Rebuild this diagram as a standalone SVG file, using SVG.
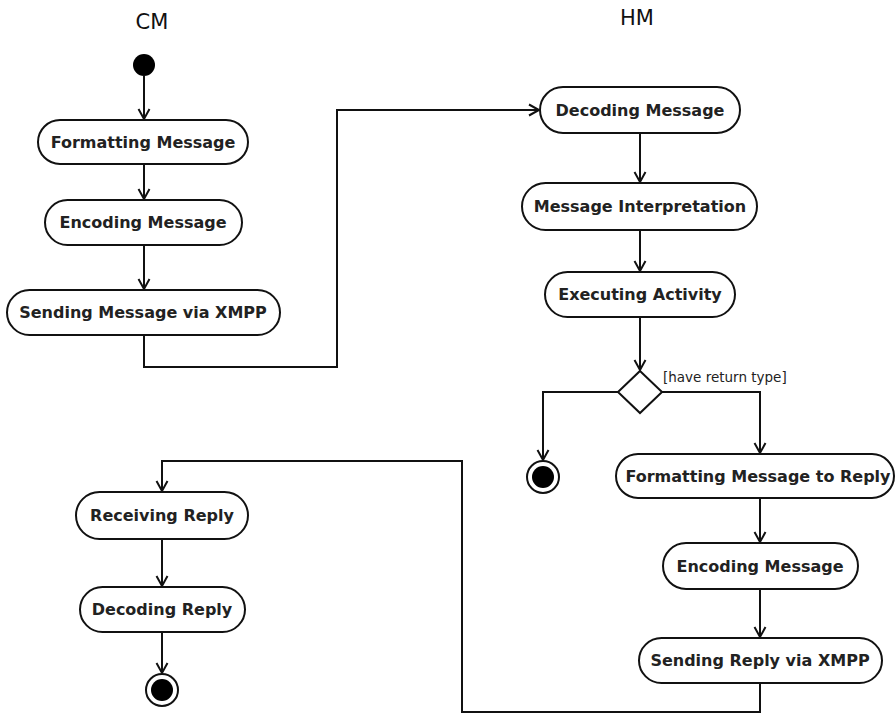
<svg xmlns="http://www.w3.org/2000/svg" width="896" height="715" viewBox="0 0 896 715">
<style>
.n{fill:#fff;stroke:#111;stroke-width:2}
.t{font-family:"DejaVu Sans",Verdana,sans-serif;font-size:16px;font-weight:bold;fill:#222;text-anchor:middle;dominant-baseline:central}
.h{font-family:"DejaVu Sans",Verdana,sans-serif;font-size:21px;fill:#111;text-anchor:middle}
.c{fill:none;stroke:#111;stroke-width:2}
.g{font-family:"DejaVu Sans",Verdana,sans-serif;font-size:13.5px;fill:#222}
</style>
<defs>
<marker id="a" markerWidth="14" markerHeight="14" refX="11" refY="7" orient="auto" markerUnits="userSpaceOnUse">
<path d="M1,1.5 L11,7 L1,12.5" fill="none" stroke="#111" stroke-width="2"/>
</marker>
</defs>
<text class="h" x="152" y="29">CM</text>
<text class="h" x="637" y="25">HM</text>
<g id="connectors">
<path class="c" d="M144,76 V119" marker-end="url(#a)"/>
<path class="c" d="M144,164 V199" marker-end="url(#a)"/>
<path class="c" d="M144,245 V289" marker-end="url(#a)"/>
<path class="c" d="M144,335 V367 H337 V110 H539" marker-end="url(#a)"/>
<path class="c" d="M640,133 V182" marker-end="url(#a)"/>
<path class="c" d="M640,230 V271" marker-end="url(#a)"/>
<path class="c" d="M640,317 V370" marker-end="url(#a)"/>
<path class="c" d="M618,392 H543 V460" marker-end="url(#a)"/>
<path class="c" d="M662,392 H760 V453" marker-end="url(#a)"/>
<path class="c" d="M760,498 V542" marker-end="url(#a)"/>
<path class="c" d="M760,589 V637" marker-end="url(#a)"/>
<path class="c" d="M760,683 V712 H462 V461 H162 V491" marker-end="url(#a)"/>
<path class="c" d="M162,539 V586" marker-end="url(#a)"/>
<path class="c" d="M162,632 V673" marker-end="url(#a)"/>
</g>
<g id="start"><circle cx="144" cy="65" r="11" fill="#000"/></g>
<g id="formatting"><rect class="n" x="38" y="120" width="210" height="44" rx="22"/><text class="t" x="143" y="142">Formatting Message</text></g>
<g id="encoding"><rect class="n" x="45" y="200" width="197" height="45" rx="22.5"/><text class="t" x="143" y="222">Encoding Message</text></g>
<g id="sending"><rect class="n" x="7" y="290" width="273" height="45" rx="22.5"/><text class="t" x="143" y="312">Sending Message via XMPP</text></g>
<g id="decoding"><rect class="n" x="540" y="87" width="200" height="46" rx="23"/><text class="t" x="640" y="110">Decoding Message</text></g>
<g id="interpretation"><rect class="n" x="522" y="183" width="235" height="47" rx="23.5"/><text class="t" x="640" y="206">Message Interpretation</text></g>
<g id="executing"><rect class="n" x="545" y="272" width="190" height="45" rx="22.5"/><text class="t" x="640" y="294">Executing Activity</text></g>
<g id="decision"><path class="n" d="M640,371 L662,392 L640,413 L618,392 Z"/><text class="g" x="663" y="382">[have return type]</text></g>
<g id="end1"><circle cx="543" cy="477" r="16" fill="#fff" stroke="#111" stroke-width="2"/><circle cx="543" cy="477" r="11" fill="#000"/></g>
<g id="formatReply"><rect class="n" x="616" y="454" width="278" height="44" rx="22"/><text class="t" x="758" y="476">Formatting Message to Reply</text></g>
<g id="encodingHM"><rect class="n" x="663" y="543" width="195" height="46" rx="23"/><text class="t" x="760" y="566">Encoding Message</text></g>
<g id="sendingReply"><rect class="n" x="639" y="638" width="243" height="45" rx="22.5"/><text class="t" x="760" y="660">Sending Reply via XMPP</text></g>
<g id="receiving"><rect class="n" x="76" y="492" width="172" height="47" rx="23.5"/><text class="t" x="162" y="515">Receiving Reply</text></g>
<g id="decodingReply"><rect class="n" x="80" y="587" width="165" height="45" rx="22.5"/><text class="t" x="162" y="609">Decoding Reply</text></g>
<g id="end2"><circle cx="162" cy="690" r="16" fill="#fff" stroke="#111" stroke-width="2"/><circle cx="162" cy="690" r="11" fill="#000"/></g>
</svg>
